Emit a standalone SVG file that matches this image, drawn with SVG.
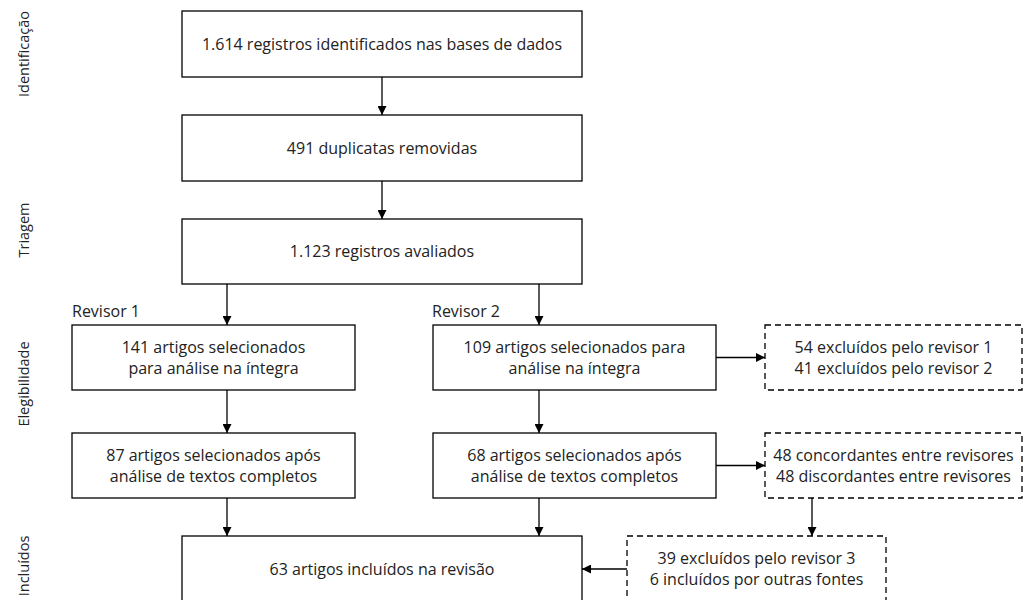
<svg xmlns="http://www.w3.org/2000/svg" width="1024" height="600" viewBox="0 0 1024 600">
<defs>
<marker id="ah" viewBox="0 0 10 10" refX="10" refY="5" markerWidth="9" markerHeight="9" markerUnits="userSpaceOnUse" orient="auto">
<path d="M0,0 L10,5 L0,10 z" fill="#000"/>
</marker>
<style>
text{font-family:"Open Sans","Noto Sans","DejaVu Sans",sans-serif;font-size:16px;fill:#222;}
.c{text-anchor:middle;dominant-baseline:central;}
.ph{font-size:14.5px;}
.box{fill:#fff;stroke:#000;stroke-width:1.3;}
.dbox{fill:#fff;stroke:#000;stroke-width:1.3;stroke-dasharray:6 4;}
.ln{stroke:#000;stroke-width:1.3;fill:none;marker-end:url(#ah);}
</style>
</defs>
<rect width="1024" height="600" fill="#fff"/>
<g id="phases">
<text class="c ph" transform="translate(23,54) rotate(-90)">Identificação</text>
<text class="c ph" transform="translate(23,230) rotate(-90)">Triagem</text>
<text class="c ph" transform="translate(23,384) rotate(-90)">Elegibilidade</text>
<text class="c ph" transform="translate(23,566) rotate(-90)">Incluídos</text>
<text x="72" y="311" style="dominant-baseline:central">Revisor 1</text>
<text x="432" y="311" style="dominant-baseline:central">Revisor 2</text>
</g>
<g id="connectors">
<line class="ln" x1="382" y1="77" x2="382" y2="115"/>
<line class="ln" x1="382" y1="181" x2="382" y2="219"/>
<line class="ln" x1="227" y1="284" x2="227" y2="325"/>
<line class="ln" x1="539" y1="284" x2="539" y2="325"/>
<line class="ln" x1="227" y1="390" x2="227" y2="433"/>
<line class="ln" x1="539" y1="390" x2="539" y2="433"/>
<line class="ln" x1="716" y1="357.5" x2="765" y2="357.5"/>
<line class="ln" x1="716" y1="465.5" x2="765" y2="465.5"/>
<line class="ln" x1="227" y1="498" x2="227" y2="536"/>
<line class="ln" x1="539" y1="498" x2="539" y2="536"/>
<line class="ln" x1="812" y1="498" x2="812" y2="536"/>
<line class="ln" x1="627" y1="569" x2="582" y2="569"/>
</g>
<g id="n1"><rect class="box" x="182" y="11" width="400" height="66"/><text class="c" x="382" y="44">1.614 registros identificados nas bases de dados</text></g>
<g id="n2"><rect class="box" x="182" y="115" width="400" height="66"/><text class="c" x="382" y="148">491 duplicatas removidas</text></g>
<g id="n3"><rect class="box" x="182" y="219" width="400" height="65"/><text class="c" x="382" y="251">1.123 registros avaliados</text></g>
<g id="n4"><rect class="box" x="72" y="325" width="283" height="65"/><text class="c" x="213.5" y="347">141 artigos selecionados</text><text class="c" x="213.5" y="368">para análise na íntegra</text></g>
<g id="n5"><rect class="box" x="433" y="325" width="283" height="65"/><text class="c" x="574.5" y="347">109 artigos selecionados para</text><text class="c" x="574.5" y="368">análise na íntegra</text></g>
<g id="n6"><rect class="dbox" x="765" y="325" width="257" height="65"/><text class="c" x="893.5" y="347">54 excluídos pelo revisor 1</text><text class="c" x="893.5" y="368">41 excluídos pelo revisor 2</text></g>
<g id="n7"><rect class="box" x="72" y="433" width="283" height="65"/><text class="c" x="213.5" y="455">87 artigos selecionados após</text><text class="c" x="213.5" y="476">análise de textos completos</text></g>
<g id="n8"><rect class="box" x="433" y="433" width="283" height="65"/><text class="c" x="574.5" y="455">68 artigos selecionados após</text><text class="c" x="574.5" y="476">análise de textos completos</text></g>
<g id="n9"><rect class="dbox" x="765" y="433" width="257" height="65"/><text class="c" x="893.5" y="455">48 concordantes entre revisores</text><text class="c" x="893.5" y="476">48 discordantes entre revisores</text></g>
<g id="n10"><rect class="box" x="182" y="536" width="400" height="66"/><text class="c" x="382" y="569">63 artigos incluídos na revisão</text></g>
<g id="n11"><rect class="dbox" x="627" y="536" width="259" height="66"/><text class="c" x="756.5" y="558">39 excluídos pelo revisor 3</text><text class="c" x="756.5" y="579">6 incluídos por outras fontes</text></g>
</svg>
